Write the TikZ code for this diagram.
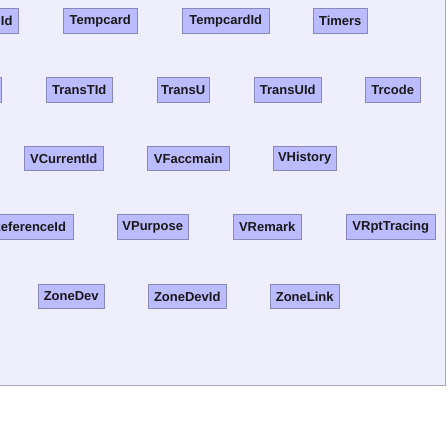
\documentclass[tikz,border=0pt]{standalone}
\usepackage{fontspec}
\newfontface\tblbold{Liberation Sans Bold}
\newcommand{\tbltext}{\tblbold\fontsize{13}{15}\selectfont}
\begin{document}
\begin{tikzpicture}[x=1pt,y=-1pt,
  tbl/.style={draw=boxline, fill=boxfill, line width=1pt, inner sep=0pt,
    minimum height=24.5pt, font=\tbltext, text=black!90},
  cutbox/.style={tbl, align=right}]
\definecolor{panel}{HTML}{EEEEFC}
\definecolor{panelline}{HTML}{A8A8B8}
\definecolor{boxfill}{HTML}{BBBBFF}
\definecolor{boxline}{HTML}{8888BB}
\useasboundingbox (0,0) rectangle (448,423);
\clip (0,0) rectangle (448,423);
\fill[white] (0,0) rectangle (448,423);
% canvas panel
\draw[fill=panel, draw=panelline, line width=1pt] (-10,-10) rectangle (445.5,385);
% table box spanning x from #2 to #3, centred on row #4
\newcommand{\tblbox}[5]{%
  \node[tbl, minimum width={#3-#2}] (#1) at ({(#2+#3)/2},#4) {#5};}
% row 1
\node[cutbox, text width=60pt] (id) at (-11.5,21) {Id\hspace*{6pt}};
\tblbox{tempcard}{63.5}{137}{21}{Tempcard}
\tblbox{tempcardid}{182.5}{269}{21}{TempcardId}
\tblbox{timers}{313.5}{367}{21}{Timers}
% row 2
\node[tbl, minimum width=40pt] (rowtwoleft) at (-18.5,90) {};
\tblbox{transtid}{46.5}{112}{90}{TransTId}
\tblbox{transu}{157.5}{209}{90}{TransU}
\tblbox{transuid}{254.5}{321}{90}{TransUId}
\tblbox{trcode}{365.5}{420}{90}{Trcode}
% row 3
\tblbox{vcurrentid}{24.5}{103}{158.5}{VCurrentId}
\tblbox{vfaccmain}{147.5}{229}{158.5}{VFaccmain}
\tblbox{vhistory}{273.5}{336}{158.5}{VHistory}
% row 4
\node[cutbox, text width=100pt] (referenceid) at (23,227) {ReferenceId\hspace*{7pt}};
\tblbox{vpurpose}{117.5}{188}{227}{VPurpose}
\tblbox{vremark}{233.5}{301}{227}{VRemark}
\tblbox{vrpttracing}{346.5}{435}{227}{VRptTracing}
% row 5
\tblbox{zonedev}{38.5}{104}{296.5}{ZoneDev}
\tblbox{zonedevid}{148.5}{226}{296.5}{ZoneDevId}
\tblbox{zonelink}{270.5}{339}{296.5}{ZoneLink}
\end{tikzpicture}
\end{document}
